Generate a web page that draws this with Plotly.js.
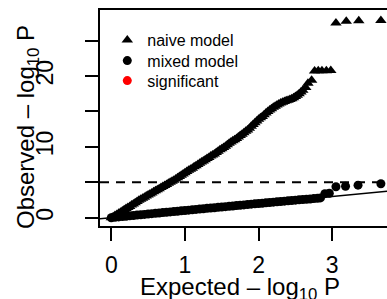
<!DOCTYPE html>
<html>
<head>
<meta charset="utf-8">
<script src="https://cdn.plot.ly/plotly-3.0.1.min.js"></script>
<style>
html,body{margin:0;padding:0;overflow:hidden;background:#fff;}
#chart{width:405px;height:299px;}
</style>
</head>
<body>
<div id="chart"></div>
<script>
// Expected -log10 P (x) and observed -log10 P (y)
const naiveExpected = [0.000,0.025,0.050,0.075,0.100,0.125,0.150,0.175,0.200,0.225,0.250,0.275,0.300,0.325,0.350,0.375,
  0.400,0.425,0.450,0.475,0.500,0.525,0.550,0.575,0.600,0.625,0.650,0.675,0.700,0.725,0.750,0.775,
  0.800,0.825,0.850,0.875,0.900,0.925,0.950,0.975,1.000,1.025,1.050,1.075,1.100,1.125,1.150,1.175,
  1.200,1.225,1.250,1.275,1.300,1.325,1.350,1.375,1.400,1.425,1.450,1.475,1.500,1.525,1.550,1.575,
  1.600,1.625,1.650,1.675,1.700,1.725,1.750,1.775,1.800,1.825,1.850,1.875,1.900,1.925,1.950,1.975,
  2.000,2.025,2.050,2.075,2.100,2.125,2.150,2.175,2.200,2.225,2.250,2.275,2.300,2.325,2.350,2.375,
  2.400,2.425,2.450,2.475,2.500,2.525,2.550,2.575,2.600,2.640,2.670,2.720,
  2.760,2.810,2.860,2.920,2.980,3.050,3.190,3.360,3.660];
const naiveObserved = [0.00,0.15,0.30,0.45,0.62,0.78,0.95,1.12,1.30,1.45,1.60,1.78,1.95,2.12,2.30,2.45,
  2.60,2.75,2.90,3.05,3.20,3.35,3.50,3.65,3.80,3.95,4.10,4.25,4.40,4.55,4.70,4.85,
  5.00,5.15,5.30,5.48,5.65,5.82,6.00,6.18,6.35,6.52,6.70,6.85,7.00,7.18,7.35,7.52,
  7.70,7.85,8.00,8.18,8.35,8.52,8.70,8.85,9.00,9.20,9.40,9.58,9.75,9.92,10.10,10.30,
  10.50,10.68,10.85,11.02,11.20,11.40,11.60,11.80,12.00,12.20,12.40,12.65,12.90,13.15,13.40,13.65,
  13.90,14.10,14.30,14.55,14.80,15.00,15.20,15.40,15.60,15.75,15.90,16.05,16.20,16.30,16.40,16.50,
  16.60,16.70,16.80,16.95,17.10,17.30,17.50,17.75,18.00,18.40,19.00,19.40,
  20.70,20.75,20.75,20.75,20.80,27.50,27.75,27.80,27.85];

const mixedExpected = [0.00,0.05,0.10,0.15,0.20,0.25,0.30,0.35,0.40,0.45,0.50,0.55,0.60,0.65,0.70,0.75,0.80,0.85,0.90,0.95,
  1.00,1.05,1.10,1.15,1.20,1.25,1.30,1.35,1.40,1.45,1.50,1.55,1.60,1.65,1.70,1.75,1.80,1.85,1.90,1.95,
  2.00,2.05,2.10,2.15,2.20,2.25,2.30,2.35,2.40,2.45,2.50,2.55,2.60,2.65,2.70,2.75,2.80,2.84,2.90,2.96,
  3.05,3.18,3.35,3.66];
const mixedObserved = [0.00,0.06,0.11,0.16,0.21,0.26,0.31,0.37,0.42,0.47,0.52,0.57,0.62,0.67,0.72,0.77,0.82,0.87,0.92,0.97,
  1.02,1.07,1.12,1.17,1.22,1.27,1.32,1.36,1.41,1.46,1.51,1.56,1.61,1.66,1.71,1.76,1.81,1.86,1.91,1.96,
  2.00,2.05,2.10,2.15,2.20,2.25,2.29,2.34,2.39,2.43,2.48,2.52,2.57,2.61,2.65,2.70,2.75,2.80,3.40,3.45,
  4.38,4.45,4.60,4.80];

const seriesNames = ["naive model","mixed model","significant"];
const significanceLevel = 5;           // dashed threshold line
const xTickVals = [0,1,2,3];
const xTickText = ["0","1","2","3"];
const yTickVals = [0,10,20];
const yTickText = ["0","10","20"];
const yMinorStep = 5;
const xTitle = "Expected \u2013 log<sub>10</sub> P";
const yTitle = "Observed \u2013 log<sub>10</sub> P";
const xRange = [-0.153, 3.811];
const yRange = [-1.17, 29.33];

const FONT = "Liberation Sans, Arial, Helvetica, sans-serif";

const traces = [
  {x: naiveExpected, y: naiveObserved, type: "scatter", mode: "markers", name: seriesNames[0],
   marker: {symbol: "triangle-up", size: 10, color: "#000", line: {width: 0}}, legend: "legend"},
  {x: mixedExpected, y: mixedObserved, type: "scatter", mode: "markers", name: seriesNames[1],
   marker: {symbol: "circle", size: 9, color: "#000", line: {width: 0}}, legend: "legend2"},
  {x: [null], y: [null], type: "scatter", mode: "markers", name: seriesNames[2],
   marker: {symbol: "circle", size: 9, color: "#ff0000", line: {width: 0}}, legend: "legend3"}
];

const legendBase = {xanchor: "left", yanchor: "middle", bgcolor: "rgba(0,0,0,0)", borderwidth: 0,
  font: {family: FONT, size: 16, color: "#000"}, itemwidth: 30};

const layout = {
  width: 405, height: 299,
  margin: {l: 100, r: 13, t: 10, b: 73},
  paper_bgcolor: "#fff", plot_bgcolor: "#fff",
  font: {family: FONT, color: "#000"},
  showlegend: true,
  legend: Object.assign({}, legendBase, {x: 0.025, y: (226-40)/216}),
  legend2: Object.assign({}, legendBase, {x: 0.025, y: (226-60.7)/216}),
  legend3: Object.assign({}, legendBase, {x: 0.025, y: (226-80.7)/216}),
  xaxis: {
    range: xRange, showgrid: false, zeroline: false,
    showline: true, mirror: true, linecolor: "#000", linewidth: 2,
    ticks: "outside", ticklen: 13, tickwidth: 2, tickcolor: "#000",
    tickvals: xTickVals, ticktext: xTickText, ticklabelstandoff: 4,
    tickfont: {family: FONT, size: 23, color: "#000"}
  },
  yaxis: {
    range: yRange, showgrid: false, zeroline: false,
    showline: true, mirror: true, linecolor: "#000", linewidth: 2,
    ticks: "outside", ticklen: 13, tickwidth: 2, tickcolor: "#000",
    tickvals: yTickVals, ticktext: yTickText, tickangle: -90, ticklabelstandoff: 23,
    tickfont: {family: FONT, size: 23, color: "#000"},
    minor: {dtick: yMinorStep, tick0: 0, ticks: "outside", ticklen: 13, tickwidth: 2, tickcolor: "#000", showgrid: false}
  },
  annotations: [
    {text: xTitle, xref: "paper", yref: "paper", x: (240-100)/292, y: (226-288)/216, xanchor: "center", yanchor: "middle",
     showarrow: false, font: {family: FONT, size: 24, color: "#000"}},
    {text: yTitle, xref: "paper", yref: "paper", x: (27-100)/292, y: (226-127)/216, xanchor: "center", yanchor: "middle",
     textangle: -90, showarrow: false, font: {family: FONT, size: 24, color: "#000"}}
  ],
  shapes: [
    {type: "line", xref: "paper", x0: 0, x1: 1, yref: "y", y0: significanceLevel, y1: significanceLevel,
     line: {color: "#000", width: 2, dash: "9px,7px"}},
    {type: "line", xref: "x", yref: "y", x0: xRange[0], y0: xRange[0], x1: xRange[1], y1: xRange[1],
     line: {color: "#000", width: 1.5}}
  ]
};

Plotly.newPlot("chart", traces, layout, {displayModeBar: false, staticPlot: true});
</script>
</body>
</html>
